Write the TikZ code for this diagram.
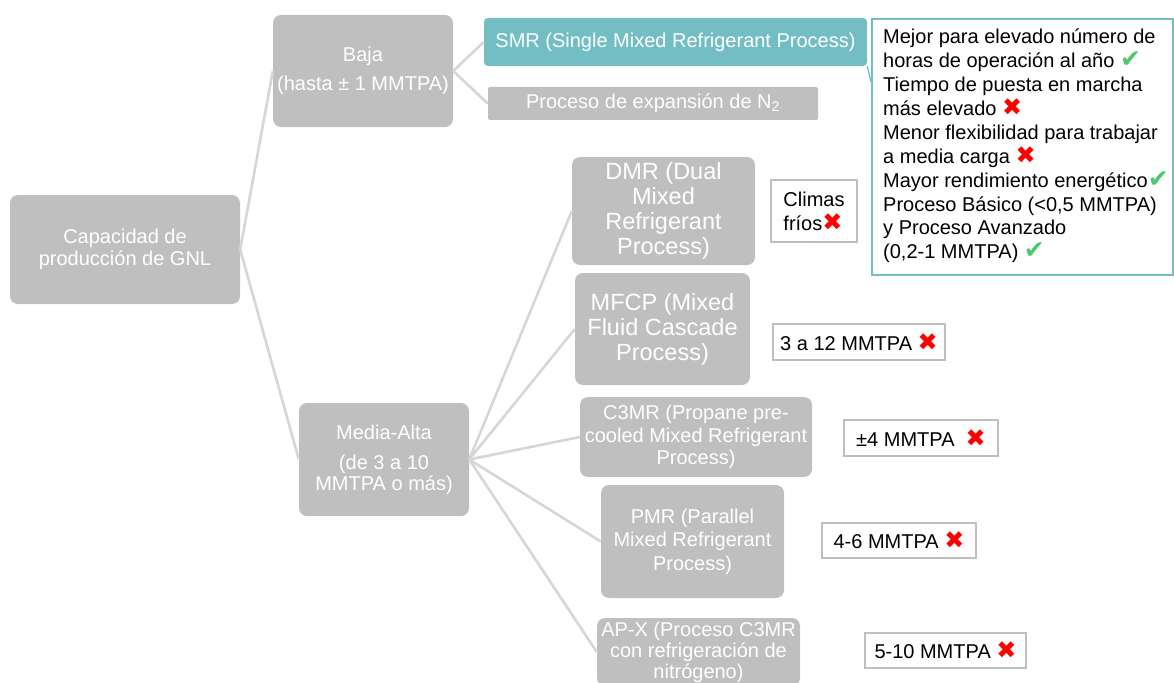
\documentclass[tikz,border=0pt]{standalone}
\usepackage{fontspec}
\setmainfont{Liberation Sans}
\newfontfamily\symfont{DejaVu Sans}
\definecolor{boxgray}{RGB}{191,191,191}
\definecolor{linegray}{RGB}{214,214,214}
\definecolor{tealfill}{RGB}{114,190,196}
\definecolor{crossred}{RGB}{255,0,0}
\definecolor{checkgreen}{RGB}{76,200,110}
\newcommand\badmark{{\symfont\fontsize{24}{24}\selectfont\color{crossred}✖}}
\newcommand\goodmark{{\symfont\fontsize{25}{24}\selectfont\color{checkgreen}✔}}
\newcommand\fs[2]{\fontsize{#1}{#2}\selectfont}

\tikzset{
  graybox/.style={fill=boxgray, rounded corners=8pt, text=white, align=center,
    inner sep=0pt},
  notebox/.style={draw=boxgray, line width=1.5pt, fill=white, text=black,
    align=left, inner sep=0pt, font=\fs{20}{24}},
  conn/.style={draw=linegray, line width=2.6pt},
}

\begin{document}
\begin{tikzpicture}[x=1pt,y=-1pt]
\useasboundingbox (0,0) rectangle (1174,682);

% root and the two capacity ranges
\node[graybox, minimum width=230pt, minimum height=109pt, font=\fs{20}{21.5}]
  (cap) at (125,249.5) {Capacidad de\\producción de GNL};
\node[graybox, minimum width=180pt, minimum height=112pt, font=\fs{20}{29}]
  (baja) at (363,71) {Baja\\(hasta ± 1 MMTPA)};
\node[graybox, minimum width=170pt, minimum height=113pt, font=\fs{20}{21}]
  (media) at (384,459.5) {Media-Alta\\[9pt](de 3 a 10\\MMTPA o más)};

% low capacity processes
\node[graybox, fill=tealfill, rounded corners=4pt, minimum width=383pt,
  minimum height=48pt, font=\fs{20}{24}]
  (smr) at (675.5,42) {SMR (Single Mixed Refrigerant Process)};
\node[graybox, rounded corners=2pt, minimum width=330pt, minimum height=33pt,
  font=\fs{20}{24}]
  (n2) at (653,103.5) {Proceso de expansión de N\textsubscript{2}};

% callout with the SMR remarks
\node[draw=tealfill, line width=2pt, fill=white, minimum width=301pt,
  minimum height=256pt, inner sep=0pt] (call) at (1022.5,147) {};
\node[anchor=west, align=left, inner sep=0pt, font=\fs{20}{23.9}]
  (calltxt) at (883,146)
  {Mejor para elevado número de\\
   horas de operación al año \goodmark\\
   Tiempo de puesta en marcha\\
   más elevado \badmark\\
   Menor flexibilidad para trabajar\\
   a media carga \badmark\\
   Mayor rendimiento energético\goodmark\\
   Proceso Básico (<0,5 MMTPA)\\
   y Proceso Avanzado\\
   (0,2-1 MMTPA) \goodmark};
\coordinate (ptr) at (871,82);
\draw[tealfill, line width=1.3pt] (smr.south east) -- (ptr);

% medium-high capacity processes
\node[graybox, minimum width=183pt, minimum height=108pt, font=\fs{23.5}{25}]
  (dmr) at (663.5,211) {DMR (Dual\\Mixed\\Refrigerant\\Process)};
\node[graybox, minimum width=175pt, minimum height=112pt, font=\fs{23.5}{25}]
  (mfcp) at (662.5,329) {MFCP (Mixed\\Fluid Cascade\\Process)};
\node[graybox, minimum width=232pt, minimum height=80pt, font=\fs{20}{22.5}]
  (c3mr) at (696,437) {C3MR (Propane pre-\\cooled Mixed Refrigerant\\Process)};
\node[graybox, minimum width=183pt, minimum height=113pt, font=\fs{20}{23.5}]
  (pmr) at (692.5,541.5) {PMR (Parallel\\Mixed Refrigerant\\Process)};
\node[graybox, minimum width=203pt, minimum height=68pt, font=\fs{20}{21}]
  (apx) at (698.5,652) {AP-X (Proceso C3MR\\con refrigeración de\\nitrógeno)};

% notes
\node[notebox, minimum width=86pt, minimum height=62pt]
  (climas) at (814,211) {Climas\\fríos\badmark};
\node[notebox, minimum width=172pt, minimum height=36pt]
  (n312) at (859,342) {3 a 12 MMTPA \badmark};
\node[notebox, minimum width=154pt, minimum height=36pt]
  (n4) at (921,438) {±4 MMTPA \ \badmark};
\node[notebox, minimum width=154pt, minimum height=35pt]
  (n46) at (899,540.5) {4-6 MMTPA \badmark};
\node[notebox, minimum width=161pt, minimum height=35pt]
  (n510) at (945.5,650.5) {5-10 MMTPA \badmark};

% connectors
\draw[conn] (cap.east) -- (baja.west);
\draw[conn] (cap.east) -- (media.west);
\draw[conn] (baja.east) -- (smr.west);
\draw[conn] (baja.east) -- (n2.west);
\foreach \t in {dmr,mfcp,c3mr,pmr,apx}
  \draw[conn] (media.east) -- (\t.west);
\end{tikzpicture}
\end{document}
